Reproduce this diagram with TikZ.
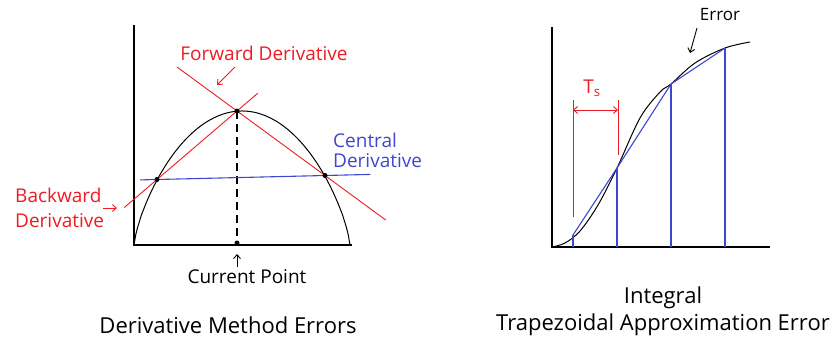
\documentclass[tikz,border=0pt]{standalone}
\usepackage{fontspec}
\setmainfont{Open Sans}
\usetikzlibrary{calc,arrows.meta}
\definecolor{errred}{RGB}{237,28,36}
\definecolor{chordblue}{RGB}{63,72,204}
\begin{document}
\begin{tikzpicture}[x=1pt,y=-1pt,
  axis/.style={line width=1.6pt},
  curve/.style={line width=1pt},
  redline/.style={errred,line width=0.9pt},
  blueline/.style={chordblue,line width=1.1pt},
  lbl/.style={font=\fontsize{19}{20}\selectfont,inner sep=0pt},
  ttl/.style={font=\fontsize{22}{27}\selectfont,inner sep=0pt,align=center},
  dot/.style={circle,fill=black,inner sep=0pt,minimum size=5pt},
  >={Straight Barb[length=4pt,width=7pt]}]
\useasboundingbox (0,0) rectangle (832,340);
% derivative method errors
\coordinate (o1) at (134,245);
\coordinate (bL) at (157,179.5);
\coordinate (pk) at (237,111);
\coordinate (bR) at (325,175.5);
\coordinate (cp) at (237,243);
\draw[axis] (134,25) -- (o1) -- (352,245);
\draw[curve,domain=134:350,samples=120] plot(\x,{245-134*pow(max(1-((\x-242)/108)^2,0.00001),0.75)});
\draw[line width=1.2pt,dash pattern=on 8pt off 5pt] (pk) -- (cp);
\draw[redline] ($(pk)!-0.68!(bR)$) -- ($(pk)!1.69!(bR)$);
\draw[redline] ($(bL)!-0.41!(pk)$) -- ($(bL)!1.26!(pk)$);
\draw[blueline] ($(bL)!-0.1!(bR)$) -- ($(bL)!1.27!(bR)$);
\foreach \p in {bL,pk,bR,cp}{\node[dot] at (\p) {};}
\node[lbl,errred] (fwd) at (264,53) {Forward Derivative};
\node[lbl,chordblue,align=left,anchor=west] (cen) at (333,150) {Central\\Derivative};
\node[lbl,errred,align=left,anchor=west,font=\fontsize{19}{25}\selectfont] (bwd) at (15,207.5) {Backward\\Derivative};
\node[lbl] (cur) at (247,277) {Current Point};
\coordinate (fwA) at (235,67); \coordinate (fwB) at (217,85);
\coordinate (bwA) at (103,208); \coordinate (bwB) at (117,208);
\coordinate (cuA) at (237,267); \coordinate (cuB) at (237,254);
\draw[redline,->] (fwA) -- (fwB);
\draw[redline,->] (bwA) -- (bwB);
\draw[line width=0.9pt,->] (cuA) -- (cuB);
\node[ttl] (t1) at (228,325) {Derivative Method Errors};
% trapezoidal approximation error
\coordinate (o2) at (552,247);
\draw[axis] (552,27) -- (o2) -- (770,247);
\draw[curve] plot[smooth,tension=0.55] coordinates {(552,247) (565,243) (580,231) (598,205) (617,168) (640,118) (660,92) (671,84) (695,63) (725,48) (750,42)};
\foreach \i/\x/\y in {1/573/235,2/617/168,3/671/84,4/725/48}{
  \coordinate (s\i) at (\x,\y);
  \coordinate (g\i) at (\x,247);
  \draw[blueline] (g\i) -- (s\i);
}
\draw[blueline] (s1) -- (s2) -- (s3) -- (s4);
\coordinate (ta) at (573,100); \coordinate (tb) at (618,100);
\draw[redline] (ta) -- (573,217);
\draw[redline] (tb) -- (618,155);
\draw[redline,<->] ($(ta)+(0,10)$) -- ($(tb)+(0,10)$);
\node[lbl,errred] (ts) at (592,88) {T\textsubscript{s}};
\node[lbl,font=\fontsize{17}{20}\selectfont] (err) at (720,15) {Error};
\coordinate (erA) at (697,28); \coordinate (erB) at (690,53);
\draw[line width=0.9pt,->] (erA) -- (erB);
\node[ttl] (t2) at (663,311.5) {Integral\\Trapezoidal Approximation Error};
\end{tikzpicture}
\end{document}
